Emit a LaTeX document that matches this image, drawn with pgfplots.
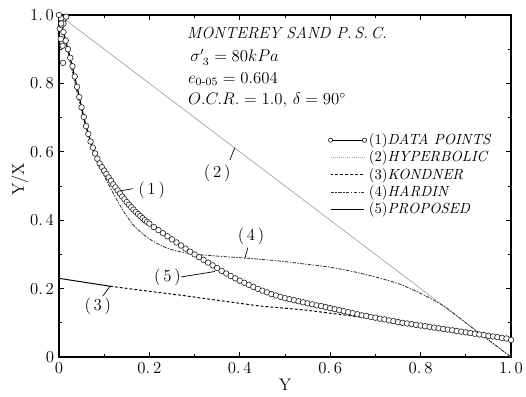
\documentclass[border=0pt]{standalone}
\usepackage{amsmath}
\usepackage{pgfplots}
\pgfplotsset{compat=1.18}
\begin{document}
\begin{tikzpicture}
\path[use as bounding box] (-42.1pt,-27.9pt) rectangle (333.6pt,255pt);
\begin{axis}[
  at={(0,0)}, anchor=south west,
  scale only axis, width=322.9pt, height=244.3pt,
  xmin=0, xmax=1, ymin=0, ymax=1,
  xtick={0,0.2,0.4,0.6,0.8,1},
  xticklabels={0,0.\,2,0.\,4,0.\,6,0.\,8,1.\,0},
  ytick={0,0.2,0.4,0.6,0.8,1},
  yticklabels={0,0.\,2,0.\,4,0.\,6,0.\,8,1.\,0},
  minor tick num=1,
  tick align=inside,
  major tick length=3.5pt, minor tick length=2.5pt,
  axis line style={line width=0.9pt},
  every tick/.style={black,line width=0.6pt},
  tick label style={font=\fontsize{12}{14}\selectfont},
  xlabel={Y}, ylabel={Y/X},
  label style={font=\fontsize{12}{14}\selectfont},
  xlabel style={at={(axis description cs:0.5,-0.082)},anchor=center},
  ylabel style={at={(axis description cs:-0.087,0.52)},anchor=center},
  legend image code/.code={\draw[#1] (0cm,0cm) -- (0.85cm,0cm);},
  legend style={at={(axis cs:0.595,0.66)},anchor=north west,draw=none,fill=none,
    font=\fontsize{10.5}{12.5}\selectfont,inner sep=0pt,row sep=0pt,
    nodes={inner sep=1.5pt}},
  legend cell align=left,
]
% legend entries
\addlegendimage{legend image code/.code={
  \draw[black,line width=0.4pt] (0cm,0cm) -- (0.85cm,0cm);
  \draw[black,fill=white,line width=0.4pt] (0cm,0cm) circle (1.5pt);
  \draw[black,fill=white,line width=0.4pt] (0.85cm,0cm) circle (1.5pt);}}
\addlegendentry{(1)\textit{DATA POINTS}}
\addlegendimage{gray!70,line width=0.5pt,densely dotted}
\addlegendentry{(2)\textit{HYPERBOLIC}}
\addlegendimage{black,line width=0.6pt,dash pattern=on 2pt off 1.5pt}
\addlegendentry{(3)\textit{KONDNER}}
\addlegendimage{black!80,line width=0.6pt,dash pattern=on 2.5pt off 1pt on 1pt off 1pt}
\addlegendentry{(4)\textit{HARDIN}}
\addlegendimage{black,line width=0.8pt}
\addlegendentry{(5)\textit{PROPOSED}}

% (2) hyperbolic
\addplot[forget plot,gray!70,line width=0.5pt] coordinates {(0.015,0.985) (1.0,0.0)};
% (3) Kondner
\addplot[forget plot,black,line width=0.7pt] coordinates {(0,0.230) (0.113,0.207)};
\addplot[forget plot,black,line width=0.7pt,dash pattern=on 2pt off 1.5pt] coordinates {
(0.113,0.207) (0.2,0.192) (0.268,0.181) (0.35,0.166) (0.445,0.149) (0.548,0.137)
(0.60,0.128) (0.66,0.118) (0.70,0.113) (0.75,0.102) (0.80,0.091) (0.85,0.081)
(0.90,0.071) (0.95,0.061) (1.0,0.050)};
% (4) Hardin
\addplot[forget plot,black!80,line width=0.6pt,dash pattern=on 2.5pt off 1pt on 1pt off 1pt,smooth] coordinates {
(0,1.0) (0.02,0.89) (0.05,0.72) (0.08,0.585) (0.1,0.53) (0.113,0.497) (0.13,0.455)
(0.146,0.42) (0.165,0.385) (0.19,0.355) (0.21,0.337) (0.24,0.318) (0.27,0.307)
(0.305,0.300) (0.35,0.295) (0.415,0.289) (0.45,0.285) (0.5,0.279) (0.548,0.271)
(0.593,0.264) (0.65,0.250) (0.70,0.234) (0.75,0.215) (0.777,0.200) (0.80,0.186)
(0.85,0.150) (0.90,0.100) (0.95,0.050) (1.0,0.0)};
% (5) proposed
\addplot[forget plot,black,line width=0.8pt,smooth] coordinates {
(0,1.0) (0.02,0.90) (0.04,0.79) (0.06,0.675) (0.08,0.595) (0.10,0.545) (0.12,0.505)
(0.14,0.469) (0.16,0.438) (0.18,0.412) (0.20,0.390) (0.25,0.344) (0.30,0.300)
(0.35,0.260) (0.40,0.223) (0.45,0.194) (0.50,0.172) (0.55,0.157) (0.60,0.143)
(0.65,0.128) (0.70,0.115) (0.75,0.102) (0.80,0.092) (0.85,0.082) (0.90,0.072)
(0.95,0.062) (1.0,0.050)};
% (1) data points
\addplot[forget plot,only marks,mark=*,mark size=2pt,
  mark options={draw=black!85,fill=white,line width=0.45pt}] coordinates {
(0.002,0.960) (0.004,0.930) (0.006,0.970) (0.009,0.860) (0.008,0.910) (0.012,0.990)
(0.016,0.995) (0.005,0.990) (0.010,0.975)
(0.000,1.000) (0.005,0.975) (0.010,0.950) (0.015,0.925) (0.020,0.900) (0.025,0.875)
(0.030,0.850) (0.035,0.820) (0.040,0.790) (0.045,0.760) (0.050,0.730) (0.055,0.702)
(0.060,0.675) (0.065,0.652) (0.070,0.630) (0.075,0.612) (0.080,0.595) (0.085,0.580)
(0.090,0.566) (0.095,0.555) (0.100,0.545) (0.105,0.535) (0.110,0.525) (0.115,0.515)
(0.120,0.505) (0.125,0.496) (0.130,0.487) (0.135,0.478) (0.140,0.469) (0.145,0.461)
(0.150,0.453) (0.155,0.445) (0.160,0.438) (0.165,0.431) (0.170,0.424) (0.175,0.418)
(0.180,0.412) (0.185,0.406) (0.190,0.400) (0.195,0.395) (0.200,0.390)
(0.21,0.380) (0.22,0.371) (0.23,0.362) (0.24,0.353) (0.25,0.344) (0.26,0.335)
(0.27,0.326) (0.28,0.317) (0.29,0.308) (0.30,0.300) (0.31,0.292) (0.32,0.284)
(0.33,0.276) (0.34,0.268) (0.35,0.260) (0.36,0.252) (0.37,0.244) (0.38,0.237)
(0.39,0.230) (0.40,0.223) (0.41,0.217) (0.42,0.211) (0.43,0.205) (0.44,0.199)
(0.45,0.194) (0.46,0.189) (0.47,0.184) (0.48,0.180) (0.49,0.176) (0.50,0.172)
(0.51,0.169) (0.52,0.166) (0.53,0.163) (0.54,0.160) (0.55,0.157) (0.56,0.154)
(0.57,0.151) (0.58,0.149) (0.59,0.146) (0.60,0.143) (0.61,0.140) (0.62,0.137)
(0.63,0.134) (0.64,0.131) (0.65,0.128) (0.66,0.125) (0.67,0.122) (0.68,0.120)
(0.69,0.117) (0.70,0.115) (0.71,0.112) (0.72,0.110) (0.73,0.107) (0.74,0.105)
(0.75,0.102) (0.76,0.100) (0.77,0.098) (0.78,0.096) (0.79,0.094) (0.80,0.092)
(0.81,0.090) (0.82,0.088) (0.83,0.086) (0.84,0.084) (0.85,0.082) (0.86,0.080)
(0.87,0.078) (0.88,0.076) (0.89,0.074) (0.90,0.072) (0.91,0.070) (0.92,0.068)
(0.93,0.066) (0.94,0.064) (0.95,0.062) (0.96,0.060) (0.97,0.058) (0.98,0.056)
(0.99,0.054) (1.00,0.050)};

% annotations
\begin{scope}[every node/.style={font=\fontsize{12}{14}\selectfont,inner sep=1pt}]
\node at (axis cs:0.205,0.488) {(\,1\,)};
\draw[line width=0.5pt] (axis cs:0.163,0.492) -- (axis cs:0.128,0.484);
\node at (axis cs:0.35,0.538) {(\,2\,)};
\draw[line width=0.5pt] (axis cs:0.378,0.576) -- (axis cs:0.389,0.612);
\node at (axis cs:0.086,0.147) {(\,3\,)};
\draw[line width=0.5pt] (axis cs:0.097,0.178) -- (axis cs:0.113,0.207);
\node at (axis cs:0.425,0.353) {(\,4\,)};
\draw[line width=0.5pt] (axis cs:0.411,0.287) -- (axis cs:0.418,0.320);
\node at (axis cs:0.240,0.234) {(\,5\,)};
\draw[line width=0.5pt] (axis cs:0.270,0.234) -- (axis cs:0.345,0.250);
\end{scope}
\begin{scope}[every node/.style={font=\fontsize{11.5}{13.5}\selectfont,anchor=west,inner sep=0pt}]
\node at (axis cs:0.283,0.947) {\textit{MONTEREY SAND P.\,S.\,C.}};
\node at (axis cs:0.290,0.877) {$\sigma'_{\;3}=80kPa$};
\node at (axis cs:0.285,0.813) {$e_{0\text{-}05}=0.604$};
\node at (axis cs:0.285,0.750) {$O.C.R.=1.0,\,\delta=90^{\circ}$};
\end{scope}
\end{axis}
\end{tikzpicture}
\end{document}
